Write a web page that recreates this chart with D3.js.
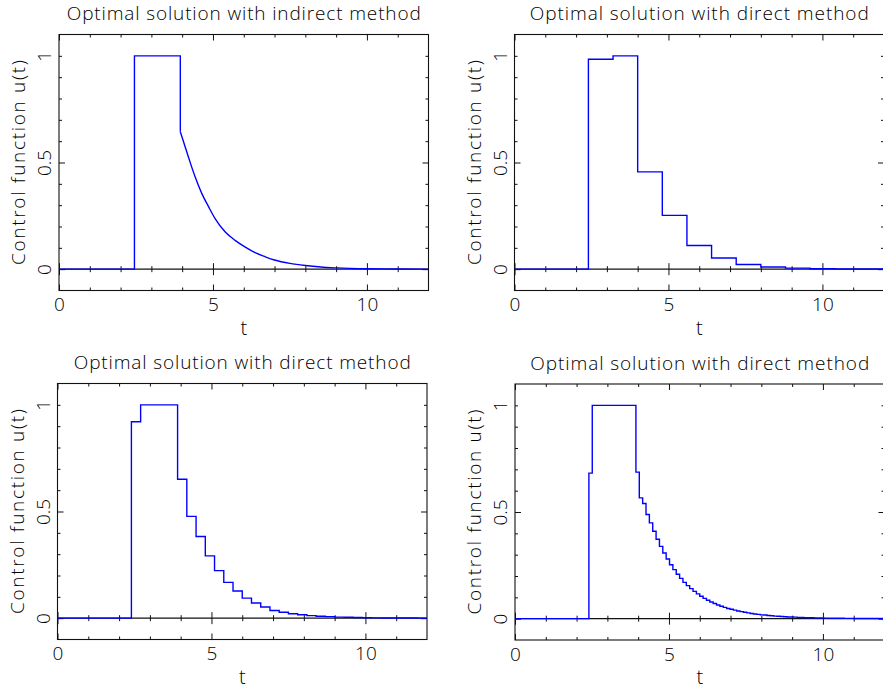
<!DOCTYPE html>
<html>
<head>
<meta charset="utf-8">
<script src="https://cdn.jsdelivr.net/npm/d3@7"></script>
<style>
body { margin: 0; background: #fff; }
svg { display: block; }
text { font-family: "Open Sans", "DejaVu Sans", sans-serif; font-weight: 300; fill: #000; }
</style>
</head>
<body>
<svg id="chart" width="883" height="689"></svg>
<script>
// tick positions
var xTicksMajor = [0, 5, 10];
var xTicksMinor = [1, 2, 3, 4, 6, 7, 8, 9, 11];
var yTicksMajor = [0, 0.5, 1];
var yTicksMinor = [0.1, 0.2, 0.3, 0.4, 0.6, 0.7, 0.8, 0.9];

var titles = [
  "Optimal solution with indirect method",
  "Optimal solution with direct method",
  "Optimal solution with direct method",
  "Optimal solution with direct method"
];

// indirect method: bang part and smooth decay
var indirectStepT = [0, 2.45, 2.45, 3.94, 3.94];
var indirectStepU = [0, 0, 1, 1, 0.644];
var indirectDecayT = [3.94, 4.2, 4.42, 4.64, 4.86, 5.07, 5.4, 5.72, 6.05, 6.37, 6.7, 7.0, 7.5, 8.0, 8.5, 9.0, 10.0, 11.0, 12.0];
var indirectDecayU = [0.644, 0.527, 0.433, 0.354, 0.292, 0.237, 0.174, 0.135, 0.103, 0.077, 0.058, 0.043, 0.027, 0.017, 0.010, 0.006, 0.002, 0.001, 0];

// direct method, piecewise constant controls (one value per interval of [0,12])
var direct15 = [0, 0, 0, 0.984, 1.0, 0.456, 0.252, 0.111, 0.052, 0.022, 0.010, 0.005, 0.002, 0.001, 0.0005];

var direct40 = [0, 0, 0, 0, 0, 0, 0, 0, 0.921, 1, 1, 1, 1,
  0.651, 0.477, 0.383, 0.292, 0.223, 0.168, 0.127, 0.094, 0.071, 0.052,
  0.036, 0.028, 0.021, 0.016, 0.012, 0.009, 0.007, 0.005, 0.004, 0.003,
  0.002, 0.0015, 0.001, 0.0008, 0.0006, 0.0005, 0.0003];

var direct110 = [0, 0, 0, 0, 0, 0, 0, 0, 0, 0, 0, 0, 0, 0, 0, 0, 0, 0, 0, 0, 0, 0,
  0.682, 1, 1, 1, 1, 1, 1, 1, 1, 1, 1, 1, 1, 1, 0.687,
  0.566, 0.540, 0.488, 0.449, 0.410, 0.372, 0.339, 0.308, 0.280, 0.253,
  0.230, 0.208, 0.189, 0.170, 0.155, 0.141, 0.128, 0.116, 0.105, 0.095, 0.086,
  0.078, 0.071, 0.064, 0.058, 0.053, 0.048, 0.044, 0.040, 0.036, 0.033,
  0.030, 0.027, 0.024, 0.022, 0.020, 0.018, 0.017, 0.015, 0.014, 0.012,
  0.011, 0.010, 0.009, 0.008, 0.0075, 0.007, 0.006, 0.0055, 0.005, 0.0045,
  0.004, 0.0037, 0.0033, 0.003, 0.0027, 0.0025, 0.0022, 0.002, 0.0018, 0.0017,
  0.0015, 0.0014, 0.0012, 0.0011, 0.001, 0.0009, 0.0008, 0.0007, 0.0007, 0.0006,
  0.0005, 0.0005];

var W = 369.5, H = 256;
var origins = [[59, 34.5], [514.5, 34.5], [57.5, 383.5], [515, 384]];
var titleLen = [354, 339, 337, 339];

var svg = d3.select("#chart");
var x = d3.scaleLinear().domain([0, 12]).range([0, W]);
var y = d3.scaleLinear().domain([-0.1, 1.1]).range([H, 0]);

var line = d3.line().x(function(d) { return x(d[0]); }).y(function(d) { return y(d[1]); });
var stepLine = d3.line().curve(d3.curveStepAfter).x(function(d) { return x(d[0]); }).y(function(d) { return y(d[1]); });
var smoothLine = d3.line().curve(d3.curveMonotoneX).x(function(d) { return x(d[0]); }).y(function(d) { return y(d[1]); });

function stepPoints(vals) {
  var h = 12 / vals.length;
  var pts = vals.map(function(v, i) { return [i * h, v]; });
  pts.push([12, vals[vals.length - 1]]);
  return pts;
}

function tickLen(d) { return (d % 5 === 0 || d === 0.5) ? 6 : 3; }

function plainAxis(g) {
  g.select(".domain").remove();
  g.attr("font-family", null).attr("font-size", null);
  g.selectAll(".tick line").attr("stroke", "#111").attr("stroke-width", 1);
}

function drawPanel(k) {
  var o = origins[k];
  var g = svg.append("g").attr("transform", "translate(" + o[0] + "," + o[1] + ")");

  g.append("clipPath").attr("id", "clip" + k)
    .append("rect").attr("width", W).attr("height", H);

  var xAll = xTicksMajor.concat(xTicksMinor);
  var yAll = yTicksMajor.concat(yTicksMinor);

  // bottom axis with labels
  var gb = g.append("g").attr("transform", "translate(0," + H + ")")
    .call(d3.axisBottom(x).tickValues(xAll).tickSize(0).tickFormat(function(d) { return xTicksMajor.indexOf(d) >= 0 ? d : ""; }));
  plainAxis(gb);
  gb.selectAll(".tick line").attr("y2", function(d) { return -tickLen(d); });
  gb.selectAll(".tick text").attr("y", 20.5).attr("dy", null)
    .style("font-size", "19px");

  // top axis
  var gt = g.append("g")
    .call(d3.axisTop(x).tickValues(xAll).tickSize(0).tickFormat(""));
  plainAxis(gt);
  gt.selectAll(".tick line").attr("y2", function(d) { return tickLen(d); });

  // left axis with rotated labels
  var gl = g.append("g")
    .call(d3.axisLeft(y).tickValues(yAll).tickSize(0).tickFormat(function(d) { return yTicksMajor.indexOf(d) >= 0 ? d : ""; }));
  plainAxis(gl);
  gl.selectAll(".tick line").attr("x2", function(d) { return tickLen(d); });
  gl.selectAll(".tick text").attr("x", null).attr("dy", null)
    .attr("text-anchor", "middle")
    .attr("transform", "translate(-8,0) rotate(-90)")
    .style("font-size", "19px");

  // right axis
  var gr = g.append("g").attr("transform", "translate(" + W + ",0)")
    .call(d3.axisRight(y).tickValues(yAll).tickSize(0).tickFormat(""));
  plainAxis(gr);
  gr.selectAll(".tick line").attr("x2", function(d) { return -tickLen(d); });

  // frame
  g.append("rect").attr("width", W).attr("height", H)
    .attr("fill", "none").attr("stroke", "#111").attr("stroke-width", 1.1);

  // zero line with ticks on both sides
  g.append("line").attr("x1", 0).attr("x2", W).attr("y1", y(0)).attr("y2", y(0))
    .attr("stroke", "#111").attr("stroke-width", 1.1);
  var gz = g.append("g").attr("transform", "translate(0," + y(0) + ")")
    .call(d3.axisBottom(x).tickValues(xAll).tickSize(0).tickFormat(""));
  plainAxis(gz);
  gz.selectAll(".tick line").attr("y1", function(d) { return -tickLen(d); })
    .attr("y2", function(d) { return tickLen(d); });

  // data
  var pg = g.append("g").attr("clip-path", "url(#clip" + k + ")")
    .attr("fill", "none").attr("stroke", "#0000ff").attr("stroke-width", 1.4);
  if (k === 0) {
    pg.append("path").attr("d", line(indirectStepT.map(function(t, i) { return [t, indirectStepU[i]]; })));
    pg.append("path").attr("d", smoothLine(indirectDecayT.map(function(t, i) { return [t, indirectDecayU[i]]; })));
  } else {
    var vals = [direct15, direct40, direct110][k - 1];
    pg.append("path").attr("d", stepLine(stepPoints(vals)));
  }

  // title
  g.append("text").attr("x", W / 2).attr("y", -14.5)
    .attr("text-anchor", "middle")
    .attr("textLength", titleLen[k]).attr("lengthAdjust", "spacing")
    .style("font-size", "19px")
    .text(titles[k]);

  // x label
  g.append("text").attr("x", x(6)).attr("y", H + 44)
    .attr("text-anchor", "middle").style("font-size", "20px").text("t");

  // y label
  g.append("text")
    .attr("transform", "translate(-34," + (H / 2) + ") rotate(-90)")
    .attr("text-anchor", "middle")
    .attr("textLength", 205).attr("lengthAdjust", "spacing")
    .style("font-size", "19px")
    .text("Control function u(t)");
}

for (var k = 0; k < 4; k++) drawPanel(k);
</script>
</body>
</html>
